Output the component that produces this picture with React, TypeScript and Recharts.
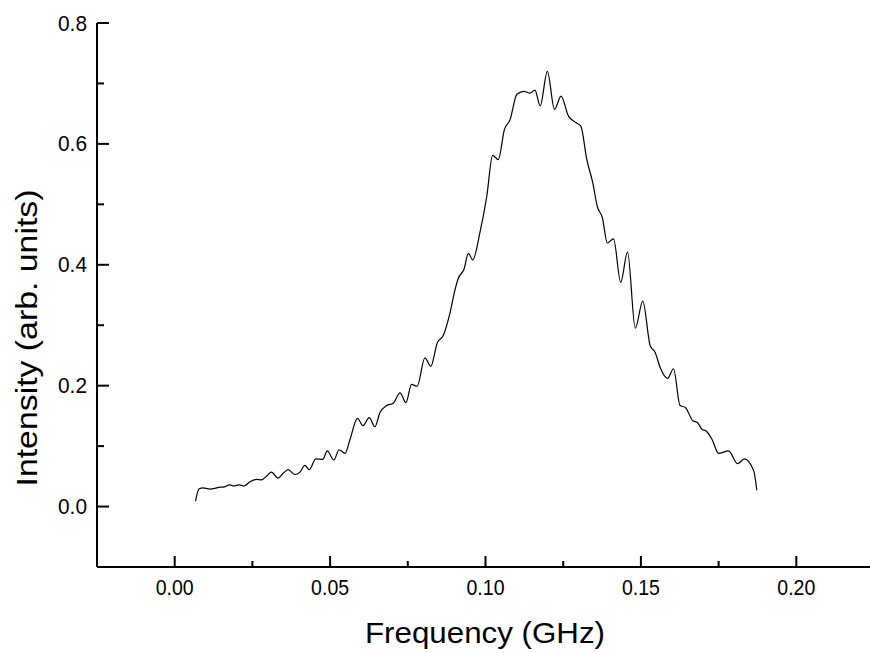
import { LineChart, Line, XAxis, YAxis } from 'recharts'

// frequency (GHz) and intensity
const freq = [
  0.0067, 0.0078, 0.0091, 0.0113, 0.0129, 0.0145, 0.0156, 0.0177, 0.019, 0.0207,
  0.0223, 0.0242, 0.0263, 0.0279, 0.0297, 0.0311, 0.0333, 0.0349, 0.0365, 0.0387,
  0.0403, 0.0419, 0.0433, 0.0454, 0.0476, 0.0491, 0.0512, 0.0529, 0.0548, 0.0564,
  0.0588, 0.0606, 0.0626, 0.0644, 0.066, 0.0682, 0.0703, 0.0725, 0.0744, 0.0762,
  0.078, 0.0805, 0.0824, 0.0845, 0.0864, 0.0886, 0.0902, 0.0912, 0.0931, 0.0945,
  0.0959, 0.0982, 0.1004, 0.1023, 0.1041, 0.1061, 0.1079, 0.1101, 0.1124, 0.1143,
  0.1159, 0.1176, 0.1199, 0.1222, 0.1243, 0.1267, 0.1292, 0.1307, 0.1326, 0.1345,
  0.136, 0.1376, 0.1392, 0.1412, 0.1435, 0.1457, 0.1482, 0.1506, 0.153, 0.1546,
  0.1562, 0.1586, 0.1605, 0.1626, 0.1643, 0.1667, 0.1682, 0.1696, 0.171, 0.1729,
  0.175, 0.1782, 0.1811, 0.1833, 0.1863, 0.1873,
]
const intensity = [
  0.009, 0.029, 0.031, 0.029, 0.030, 0.032, 0.032, 0.036, 0.034, 0.036,
  0.034, 0.041, 0.045, 0.044, 0.051, 0.057, 0.047, 0.055, 0.061, 0.053,
  0.057, 0.068, 0.061, 0.079, 0.078, 0.092, 0.077, 0.094, 0.088, 0.111,
  0.146, 0.134, 0.147, 0.132, 0.155, 0.167, 0.171, 0.188, 0.172, 0.202,
  0.199, 0.246, 0.232, 0.271, 0.283, 0.321, 0.359, 0.377, 0.393, 0.419,
  0.408, 0.453, 0.513, 0.581, 0.574, 0.624, 0.640, 0.682, 0.687, 0.684,
  0.689, 0.663, 0.720, 0.657, 0.679, 0.646, 0.635, 0.629, 0.574, 0.536,
  0.496, 0.478, 0.436, 0.443, 0.371, 0.421, 0.295, 0.340, 0.266, 0.255,
  0.230, 0.212, 0.228, 0.167, 0.164, 0.142, 0.139, 0.128, 0.125, 0.111,
  0.088, 0.092, 0.071, 0.079, 0.059, 0.027,
]

const xMajor = [0, 0.05, 0.1, 0.15, 0.2]
const xMinor = [-0.025, 0.025, 0.075, 0.125, 0.175, 0.225]
const yMajor = [0, 0.2, 0.4, 0.6, 0.8]
const yMinor = [-0.1, 0.1, 0.3, 0.5, 0.7]

const data = freq.map((f, i) => ({ f, v: intensity[i] }))

const font = '"Liberation Sans", Arial, Helvetica, sans-serif'

function XTick(props: any) {
  const { x, y, payload } = props
  const major = xMajor.some((m) => Math.abs(m - payload.value) < 1e-9)
  return (
    <g>
      <line x1={x} x2={x} y1={y} y2={y - (major ? 11 : 6)} stroke="#000" strokeWidth={2} />
      {major && (
        <text x={x} y={y + 28} textAnchor="middle" fontSize={22.5} fontFamily={font} fill="#000" textLength={38} lengthAdjust="spacingAndGlyphs">
          {payload.value.toFixed(2)}
        </text>
      )}
    </g>
  )
}

function YTick(props: any) {
  const { x, y, payload } = props
  const major = yMajor.some((m) => Math.abs(m - payload.value) < 1e-9)
  return (
    <g>
      <line x1={x} x2={x + (major ? 12 : 7)} y1={y} y2={y} stroke="#000" strokeWidth={2} />
      {major && (
        <text x={x - 10} y={y + 7.5} textAnchor="end" fontSize={22.5} fontFamily={font} fill="#000" textLength={29} lengthAdjust="spacingAndGlyphs">
          {payload.value.toFixed(1)}
        </text>
      )}
    </g>
  )
}

export default function App() {
  return (
    <div style={{ position: 'absolute', left: 0, top: 0, width: 870, height: 653, overflow: 'hidden', background: '#fff' }}>
      <LineChart width={880} height={653} data={data} margin={{ top: 23, right: 6, left: 0, bottom: 0 }}>
        <XAxis
          dataKey="f"
          type="number"
          domain={[-0.025, 0.225]}
          ticks={[...xMinor, ...xMajor].sort((a, b) => a - b)}
          interval={0}
          height={86}
          tickSize={0}
          tickMargin={0}
          tickLine={false}
          tick={<XTick />}
          axisLine={{ stroke: '#000', strokeWidth: 2 }}
          allowDataOverflow
          label={{
            content: () => (
              <text x={485} y={643} textAnchor="middle" fontSize={29} fontFamily={font} fill="#000" textLength={240} lengthAdjust="spacingAndGlyphs">
                Frequency (GHz)
              </text>
            ),
          }}
        />
        <YAxis
          type="number"
          domain={[-0.1, 0.8]}
          ticks={[...yMinor, ...yMajor].sort((a, b) => a - b)}
          interval={0}
          width={97}
          tickSize={0}
          tickMargin={0}
          tickLine={false}
          tick={<YTick />}
          axisLine={{ stroke: '#000', strokeWidth: 2 }}
          allowDataOverflow
          label={{
            content: () => (
              <text x={37} y={338} transform="rotate(-90 37 338)" textAnchor="middle" fontSize={29} fontFamily={font} fill="#000" textLength={297} lengthAdjust="spacingAndGlyphs">
                Intensity (arb. units)
              </text>
            ),
          }}
        />
        <Line
          type="monotone"
          dataKey="v"
          stroke="#000"
          strokeWidth={1.2}
          dot={false}
          isAnimationActive={false}
        />
      </LineChart>
    </div>
  )
}
